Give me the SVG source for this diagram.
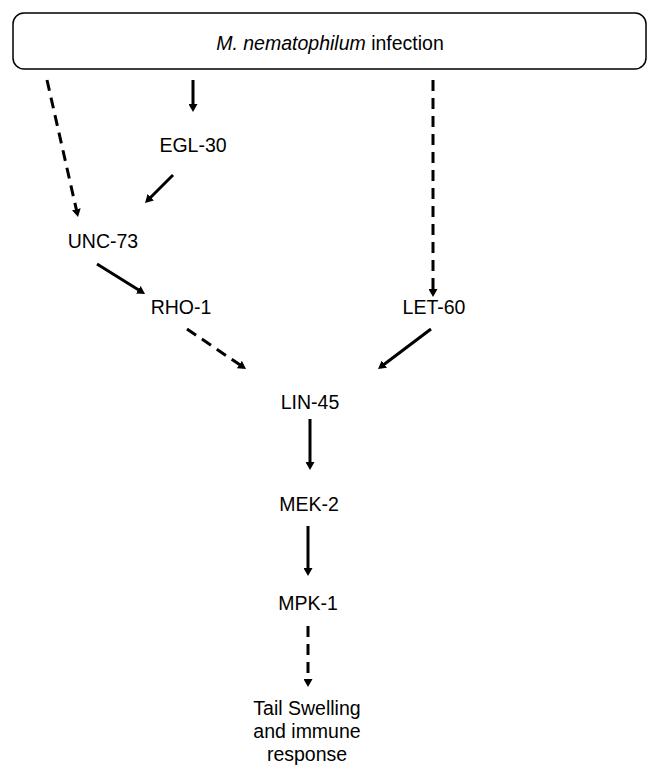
<svg xmlns="http://www.w3.org/2000/svg" width="662" height="780" viewBox="0 0 662 780">
<style>
.lbl{font-family:"Liberation Sans",Arial,sans-serif;font-size:19.5px;fill:#000;text-anchor:middle}
.ln{stroke:#000;stroke-width:3;fill:none;marker-end:url(#ah)}
.dash{stroke-dasharray:11 7}
</style>
<defs>
<marker id="ah" markerUnits="userSpaceOnUse" markerWidth="8" markerHeight="9" viewBox="0 0 8 9" refX="1" refY="4.5" orient="auto">
<path d="M0,0 L8,4.5 L0,9 Z" fill="#000"/>
</marker>
</defs>
<rect width="662" height="780" fill="#fff"/>
<g id="infection">
<rect x="13" y="13" width="633" height="56" rx="11" ry="11" fill="#fff" stroke="#000" stroke-width="1.5"/>
<text class="lbl" x="330" y="50"><tspan font-style="italic">M. nematophilum</tspan> infection</text>
</g>
<g id="egl30"><text class="lbl" x="193" y="152">EGL-30</text></g>
<g id="unc73"><text class="lbl" x="103" y="248">UNC-73</text></g>
<g id="rho1"><text class="lbl" x="181" y="314">RHO-1</text></g>
<g id="let60"><text class="lbl" x="434" y="314">LET-60</text></g>
<g id="lin45"><text class="lbl" x="310" y="409">LIN-45</text></g>
<g id="mek2"><text class="lbl" x="309" y="511">MEK-2</text></g>
<g id="mpk1"><text class="lbl" x="308" y="610">MPK-1</text></g>
<g id="tail"><text class="lbl" x="307" y="715">Tail Swelling</text><text class="lbl" x="307" y="738">and immune</text><text class="lbl" x="307" y="761">response</text></g>
<g id="connectors">
<path class="ln dash" d="M47,80 L76.5,210.2"/>
<path class="ln" d="M193,80 L193,105"/>
<path class="ln" d="M173,175 L150,198"/>
<path class="ln" d="M97,264 L139.1,290.3"/>
<path class="ln dash" d="M187,329 L240.2,365.1"/>
<path class="ln dash" d="M433,80 L433,290"/>
<path class="ln" d="M431,329 L383.6,364.8"/>
<path class="ln" d="M310,419 L310,463"/>
<path class="ln" d="M308,526 L308,569"/>
<path class="ln dash" d="M308,626 L308,680"/>
</g>
</svg>
